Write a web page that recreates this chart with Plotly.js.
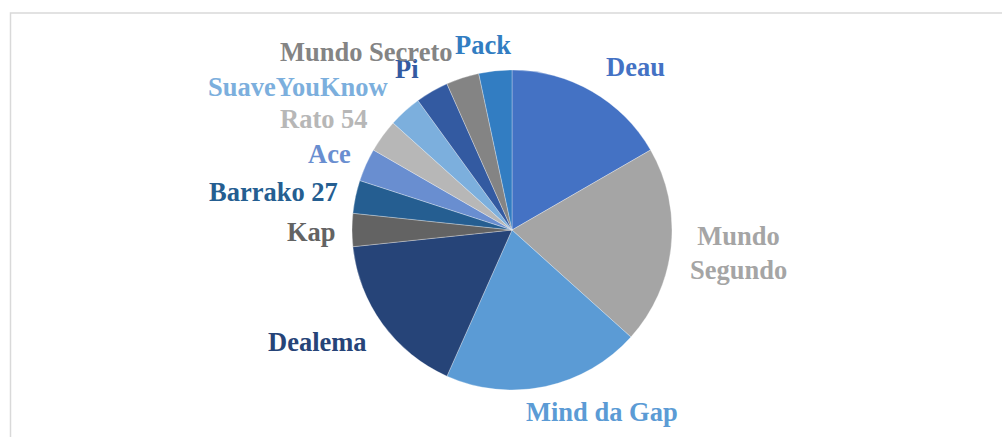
<!DOCTYPE html>
<html>
<head>
<meta charset="utf-8">
<script src="https://cdn.plot.ly/plotly-3.0.1.min.js"></script>
<style>
html,body{margin:0;padding:0;background:#fff;}
#chart{width:1002px;height:437px;}
</style>
</head>
<body>
<div id="chart"></div>
<script>
// Data
const labels = ["Deau","Mundo Segundo","Mind da Gap","Dealema","Kap","Barrako 27","Ace","Rato 54","SuaveYouKnow","Pi","Mundo Secreto","Pack"];
const values = [5, 6, 6, 5, 1, 1, 1, 1, 1, 1, 1, 1];
const labelText = ["Deau","Mundo<br>Segundo","Mind da Gap","Dealema","Kap","Barrako 27","Ace","Rato 54","SuaveYouKnow","Pi","Mundo Secreto","Pack"];

// Styles
const colors = ["#4472C4","#A5A5A5","#5B9BD5","#264478","#636363","#255E91","#698ED0","#B7B7B7","#7CAFDD","#335AA1","#848484","#327DC2"];
// label placement in pixels (layout, not data)
const labelPx = [[635,67],[738,253],[602,412],[317,342],[311,232],[273,192],[329,154],[324,119],[298,87],[407,69],[366,52],[483,45]];

const W = 1002, H = 437;
const cx = 512, cy = 230, r = 160;

const trace = {
  type: "pie",
  labels: labels,
  values: values,
  sort: false,
  direction: "clockwise",
  rotation: 0,
  textinfo: "none",
  hoverinfo: "label+value",
  marker: {colors: colors, line: {color: "rgba(255,255,255,0.5)", width: 0.6}},
  domain: {x: [(cx - r) / W, (cx + r) / W], y: [1 - (cy + r) / H, 1 - (cy - r) / H]},
  showlegend: false
};

const annotations = labelText.map((t, i) => ({
  text: t,
  xref: "paper", yref: "paper",
  x: labelPx[i][0] / W, y: 1 - labelPx[i][1] / H,
  xanchor: "center", yanchor: "middle",
  showarrow: false,
  align: "center",
  font: {family: "Liberation Serif, Times New Roman, serif", size: 26.5, color: colors[i], weight: "bold"}
}));

const layout = {
  width: W, height: H,
  margin: {l: 0, r: 0, t: 0, b: 0},
  paper_bgcolor: "#ffffff",
  plot_bgcolor: "#ffffff",
  annotations: annotations,
  shapes: [{
    type: "rect", xref: "paper", yref: "paper",
    x0: 10.5 / W, x1: 1.02, y0: -0.05, y1: 1 - 13 / H,
    line: {color: "#D9D9D9", width: 1.5}
  }]
};

Plotly.newPlot("chart", [trace], layout, {displayModeBar: false, staticPlot: true});
</script>
</body>
</html>
